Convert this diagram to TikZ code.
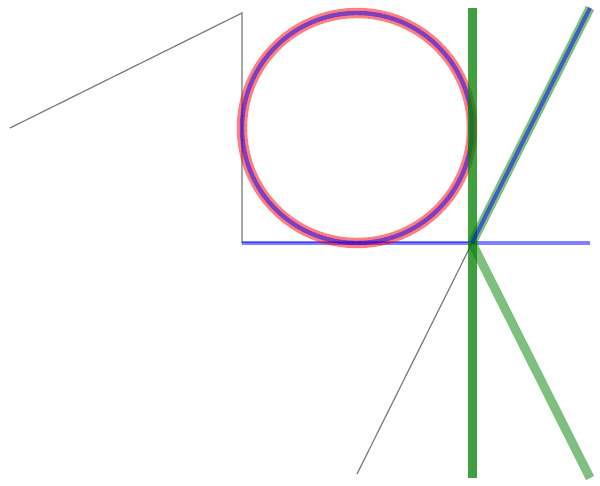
\documentclass[tikz,border=0pt]{standalone}
\usepackage{xcolor}
\usepackage{tikz}
\usetikzlibrary{calc}
\definecolor{gkgray}{HTML}{7A7A7A}
\definecolor{gkred}{HTML}{FF0000}
\definecolor{gkblue}{HTML}{0000FF}
\definecolor{gkgreen}{HTML}{008000}
\tikzset{
  guide/.style={draw=gkgray,line width=0.6pt},
  base/.style={draw=gkblue,draw opacity=0.5,line width=2pt},
  basedark/.style={draw=gkblue,draw opacity=0.5,line width=0.5pt},
  ringred/.style={draw=gkred,draw opacity=0.5,line width=5.2pt},
  ringblue/.style={draw=gkblue,draw opacity=0.5,line width=2.2pt},
  wall/.style={draw=gkgreen,draw opacity=0.75,line width=4.5pt},
  ray/.style={draw=gkgreen,draw opacity=0.5,line width=4.5pt},
  raytop/.style={draw=gkblue,draw opacity=0.5,line width=2pt}
}
\begin{document}
\begin{tikzpicture}[x=0.5pt,y=-0.5pt]
  \useasboundingbox (0,0) rectangle (600,486);
  \coordinate (a) at (10,128);
  \coordinate (b) at (242,13);
  \coordinate (c) at (242,243);
  \coordinate (o) at (357,128);
  \coordinate (t) at (472,243);
  \coordinate (e) at (590,243);
  \coordinate (wtop) at (472,8);
  \coordinate (wbot) at (472,478);
  \coordinate (rtop) at (590,8);
  \coordinate (rbot) at (590,478);
  \coordinate (g) at (357,474);
  % construction lines
  \draw[guide] (a) -- (b) -- (c);
  \draw[guide] (t) -- (g);
  \draw[base] (c) -- (e);
  \draw[basedark] (c) -- (t);
  % circle
  \draw[ringred] (o) circle[radius=115];
  \draw[ringblue] (o) circle[radius=115];
  % tangent lines
  \draw[wall] (wtop) -- (wbot);
  \draw[ray] (t) -- (rtop);
  \draw[ray] (t) -- (rbot);
  \draw[raytop] (t) -- (rtop);
\end{tikzpicture}
\end{document}
